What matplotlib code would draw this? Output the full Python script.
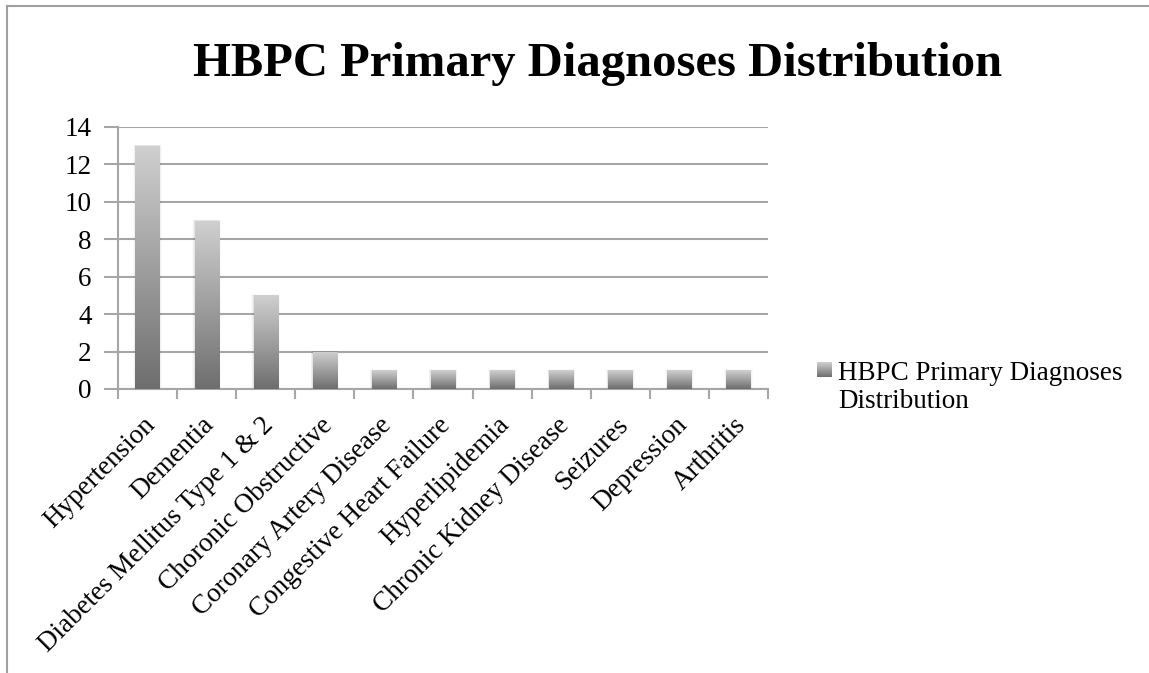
import numpy as np
import matplotlib
matplotlib.use("Agg")
import matplotlib.pyplot as plt
from matplotlib.lines import Line2D
from matplotlib.patches import Rectangle
from matplotlib.transforms import ScaledTranslation

categories = [
    "Hypertension", "Dementia", "Diabetes Mellitus Type 1 & 2",
    "Choronic Obstructive", "Coronary Artery Disease",
    "Congestive Heart Failure", "Hyperlipidemia", "Chronic Kidney Disease",
    "Seizures", "Depression", "Arthritis",
]
counts = [13, 9, 5, 2, 1, 1, 1, 1, 1, 1, 1]
series_name = "HBPC Primary Diagnoses Distribution"
title = "HBPC Primary Diagnoses Distribution"
y_ticks = [0, 2, 4, 6, 8, 10, 12, 14]

FONT = "Liberation Serif"
plt.rcParams["font.family"] = FONT
GRID = "#A6A6A6"
LABEL_SIZE = 19.5

fig = plt.figure(figsize=(11.49, 6.73), dpi=100)
ax = fig.add_axes([118 / 1149, 1 - 389 / 673, 650 / 1149, 262 / 673])

x = np.arange(len(categories))
bars = ax.bar(x, counts, width=0.41, color="none", edgecolor="none", zorder=3)

# vertical grey gradient: light at the top, dark at the base of each bar
grad = np.linspace(0, 1, 256).reshape(-1, 1)
cmap = matplotlib.colors.LinearSegmentedColormap.from_list("g", ["#6E6E6E", "#D0D0D0"])
for b in bars:
    x0, y0 = b.get_x(), b.get_y()
    w, h = b.get_width(), b.get_height()
    # faint soft shadow around the bar
    for k, a in enumerate([0.05, 0.035, 0.02]):
        d = 0.012 * (k + 1)
        sh = Rectangle((x0 - d, y0), w + 2 * d, h + d * 1.5, facecolor="black",
                       edgecolor="none", alpha=a, zorder=2)
        ax.add_patch(sh)
    im = ax.imshow(grad, extent=[x0, x0 + w, y0, y0 + h], origin="lower",
                   cmap=cmap, aspect="auto", zorder=3, interpolation="bilinear")
    im.set_clip_path(b)

ax.set_xlim(-0.5, len(categories) - 0.5)
ax.set_ylim(0, 14)
ax.set_yticks(y_ticks)
ax.set_yticklabels([str(v) for v in y_ticks], fontsize=LABEL_SIZE)
ax.yaxis.grid(True, color=GRID, linewidth=1.5, zorder=0)
ax.set_axisbelow(True)

ax.set_xticks(x)
ax.set_xticklabels(categories, rotation=45, ha="right", rotation_mode="anchor",
                   fontsize=LABEL_SIZE)
ax.tick_params(axis="x", which="major", length=0, pad=17)
shift = ScaledTranslation(-5 / 100, 0, fig.dpi_scale_trans)
for lab in ax.get_xticklabels():
    lab.set_transform(lab.get_transform() + shift)
ax.set_xticks(np.arange(len(categories) + 1) - 0.5, minor=True)
ax.tick_params(axis="x", which="minor", length=7, width=1.5, color=GRID)
ax.tick_params(axis="y", length=10, width=1.5, color=GRID, pad=9)

for s in ["top", "right"]:
    ax.spines[s].set_visible(False)
for s in ["left", "bottom"]:
    ax.spines[s].set_color(GRID)
    ax.spines[s].set_linewidth(1.5)

fig.text(598 / 1149, 1 - 64 / 673, title, ha="center", va="center",
         fontsize=35, fontweight="bold")

# legend entry
lx, ly = 817 / 1149, 1 - 377 / 673
sw, shh = 15 / 1149, 15 / 673
lax = fig.add_axes([lx, ly, sw, shh])
lax.imshow(grad, extent=[0, 1, 0, 1], origin="lower", cmap=cmap, aspect="auto")
lax.set_axis_off()
fig.text(838 / 1149, 1 - 361 / 673, series_name.replace("Diagnoses ", "Diagnoses\n"),
         ha="left", va="top", fontsize=LABEL_SIZE, linespacing=1.17)

# chart frame (left and top edges)
fig.add_artist(Line2D([7 / 1149, 7 / 1149], [0, 1 - 6 / 673],
                      transform=fig.transFigure, color="#A0A0A0", linewidth=1.5))
fig.add_artist(Line2D([7 / 1149, 1], [1 - 6 / 673, 1 - 6 / 673],
                      transform=fig.transFigure, color="#A0A0A0", linewidth=1.5))

fig.savefig("out.png", dpi=100)
